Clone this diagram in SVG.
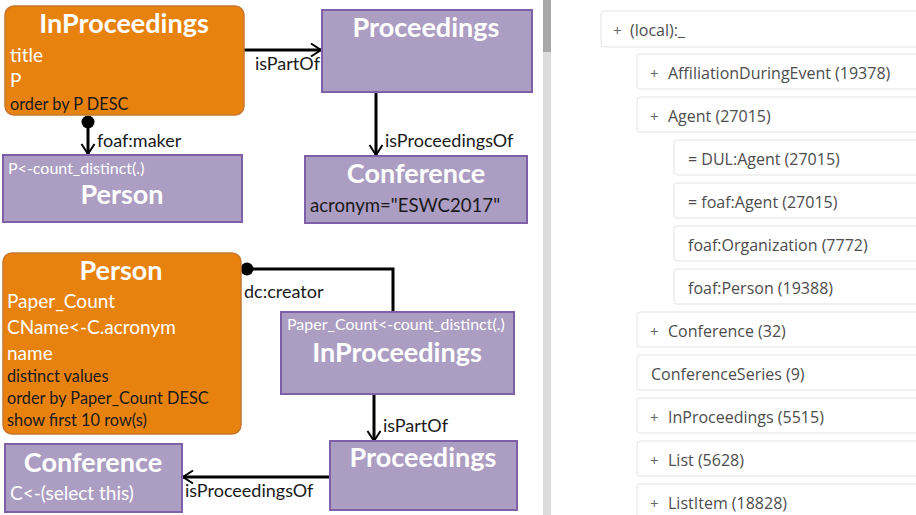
<svg xmlns="http://www.w3.org/2000/svg" width="916" height="515" viewBox="0 0 916 515">
<style>
.orange{fill:#E8820E;stroke:#C9772E;stroke-width:1.5}
.purple{fill:#AC9DC2;stroke:#7D60A8;stroke-width:2}
.title{font-family:Lato,"Liberation Sans",sans-serif;font-weight:bold;font-size:27px;fill:#fff;text-anchor:middle}
.attr{font-family:Lato,"Liberation Sans",sans-serif;font-size:19px;fill:#fff}
.mod{font-family:Lato,"Liberation Sans",sans-serif;font-size:16.3px;fill:#1a1a1a}
.small{font-family:Lato,"Liberation Sans",sans-serif;font-size:16px;fill:#fff}
.dark{font-family:Lato,"Liberation Sans",sans-serif;font-size:18.6px;fill:#1a1a1a}
.lbl{font-family:Lato,"Liberation Sans",sans-serif;font-size:18px;fill:#1a1a1a}
.edge{fill:none;stroke:#000;stroke-width:3}
.row{fill:#fff;stroke:#e3e3e3;stroke-width:1}
.tt{font-family:"Open Sans","Liberation Sans",sans-serif;font-size:16px;fill:#4d4d4d}
.plus{font-family:"Open Sans","Liberation Sans",sans-serif;font-size:15px;fill:#666}
</style>
<defs>
<marker id="arr" markerUnits="userSpaceOnUse" markerWidth="14" markerHeight="16" refX="11" refY="8" orient="auto">
<path d="M1,1.5 L11,8 L1,14.5" fill="none" stroke="#000" stroke-width="2"/>
</marker>
</defs>
<rect width="916" height="515" fill="#fff"/>
<rect x="543" y="0" width="8" height="515" fill="#dcdcdc"/>
<rect x="543" y="0" width="8" height="52" fill="#a8a8a8"/>

<g id="connectors">
<line class="edge" x1="244" y1="50" x2="321" y2="50" marker-end="url(#arr)"/>
<text class="lbl" x="255" y="70">isPartOf</text>
<circle cx="88" cy="122" r="6.5" fill="#000"/>
<line class="edge" x1="88" y1="122" x2="88" y2="154" marker-end="url(#arr)"/>
<text class="lbl" x="97" y="147">foaf:maker</text>
<line class="edge" x1="376" y1="92" x2="376" y2="155" marker-end="url(#arr)"/>
<text class="lbl" x="385" y="147">isProceedingsOf</text>
<circle cx="247" cy="269" r="6.5" fill="#000"/>
<path class="edge" d="M247,269 H393 V312"/>
<text class="lbl" x="244" y="298">dc:creator</text>
<line class="edge" x1="374" y1="394" x2="374" y2="441" marker-end="url(#arr)"/>
<text class="lbl" x="383" y="432">isPartOf</text>
<line class="edge" x1="330" y1="477" x2="183" y2="477" marker-end="url(#arr)"/>
<text class="lbl" x="185" y="497">isProceedingsOf</text>
</g>

<g id="inproceedings1">
<rect class="orange" x="5" y="6" width="239" height="109" rx="9"/>
<text class="title" x="124" y="33">InProceedings</text>
<text class="attr" x="10" y="62">title</text>
<text class="attr" x="10" y="87">P</text>
<text class="mod" x="10" y="110">order by P DESC</text>
</g>
<g id="person1">
<rect class="purple" x="3" y="155" width="239" height="67"/>
<text class="small" x="8" y="174">P&lt;-count_distinct(.)</text>
<text class="title" x="122" y="204">Person</text>
</g>
<g id="proceedings1">
<rect class="purple" x="322" y="10" width="210" height="82"/>
<text class="title" x="426" y="37">Proceedings</text>
</g>
<g id="conference1">
<rect class="purple" x="305" y="156" width="222" height="67"/>
<text class="title" x="416" y="183">Conference</text>
<text class="dark" x="310" y="212">acronym="ESWC2017"</text>
</g>

<g id="person2">
<rect class="orange" x="3" y="253" width="238" height="181" rx="9"/>
<text class="title" x="121" y="280">Person</text>
<text class="attr" x="7" y="308">Paper_Count</text>
<text class="attr" x="7" y="334">CName&lt;-C.acronym</text>
<text class="attr" x="7" y="360">name</text>
<text class="mod" x="7" y="382">distinct values</text>
<text class="mod" x="7" y="404">order by Paper_Count DESC</text>
<text class="mod" x="7" y="426">show first 10 row(s)</text>
</g>
<g id="inproceedings2">
<rect class="purple" x="281" y="312" width="233" height="82"/>
<text class="small" x="287" y="330">Paper_Count&lt;-count_distinct(.)</text>
<text class="title" x="397" y="362">InProceedings</text>
</g>
<g id="proceedings2">
<rect class="purple" x="330" y="441" width="187" height="69"/>
<text class="title" x="423" y="467">Proceedings</text>
</g>
<g id="conference2">
<rect class="purple" x="5" y="444" width="177" height="68"/>
<text class="title" x="93" y="472">Conference</text>
<text class="attr" x="10" y="500">C&lt;-(select this)</text>
</g>

<g id="tree">
<rect class="row" x="601" y="11" width="330" height="36" rx="3"/>
<text class="plus" x="613" y="36">+</text><text class="tt" x="630" y="36">(local):_</text>
<rect class="row" x="637" y="54" width="300" height="35" rx="3"/>
<text class="plus" x="650" y="79">+</text><text class="tt" x="668" y="79">AffiliationDuringEvent (19378)</text>
<rect class="row" x="637" y="97" width="300" height="35" rx="3"/>
<text class="plus" x="650" y="122">+</text><text class="tt" x="668" y="122">Agent (27015)</text>
<rect class="row" x="674" y="140" width="260" height="35" rx="3"/>
<text class="tt" x="688" y="165">= DUL:Agent (27015)</text>
<rect class="row" x="674" y="183" width="260" height="35" rx="3"/>
<text class="tt" x="688" y="208">= foaf:Agent (27015)</text>
<rect class="row" x="674" y="226" width="260" height="35" rx="3"/>
<text class="tt" x="688" y="251">foaf:Organization (7772)</text>
<rect class="row" x="674" y="269" width="260" height="35" rx="3"/>
<text class="tt" x="688" y="294">foaf:Person (19388)</text>
<rect class="row" x="637" y="312" width="300" height="35" rx="3"/>
<text class="plus" x="650" y="337">+</text><text class="tt" x="668" y="337">Conference (32)</text>
<rect class="row" x="637" y="355" width="300" height="35" rx="3"/>
<text class="tt" x="651" y="380">ConferenceSeries (9)</text>
<rect class="row" x="637" y="398" width="300" height="35" rx="3"/>
<text class="plus" x="650" y="423">+</text><text class="tt" x="668" y="423">InProceedings (5515)</text>
<rect class="row" x="637" y="441" width="300" height="35" rx="3"/>
<text class="plus" x="650" y="466">+</text><text class="tt" x="668" y="466">List (5628)</text>
<rect class="row" x="637" y="484" width="300" height="35" rx="3"/>
<text class="plus" x="650" y="509">+</text><text class="tt" x="668" y="509">ListItem (18828)</text>
</g>
</svg>
